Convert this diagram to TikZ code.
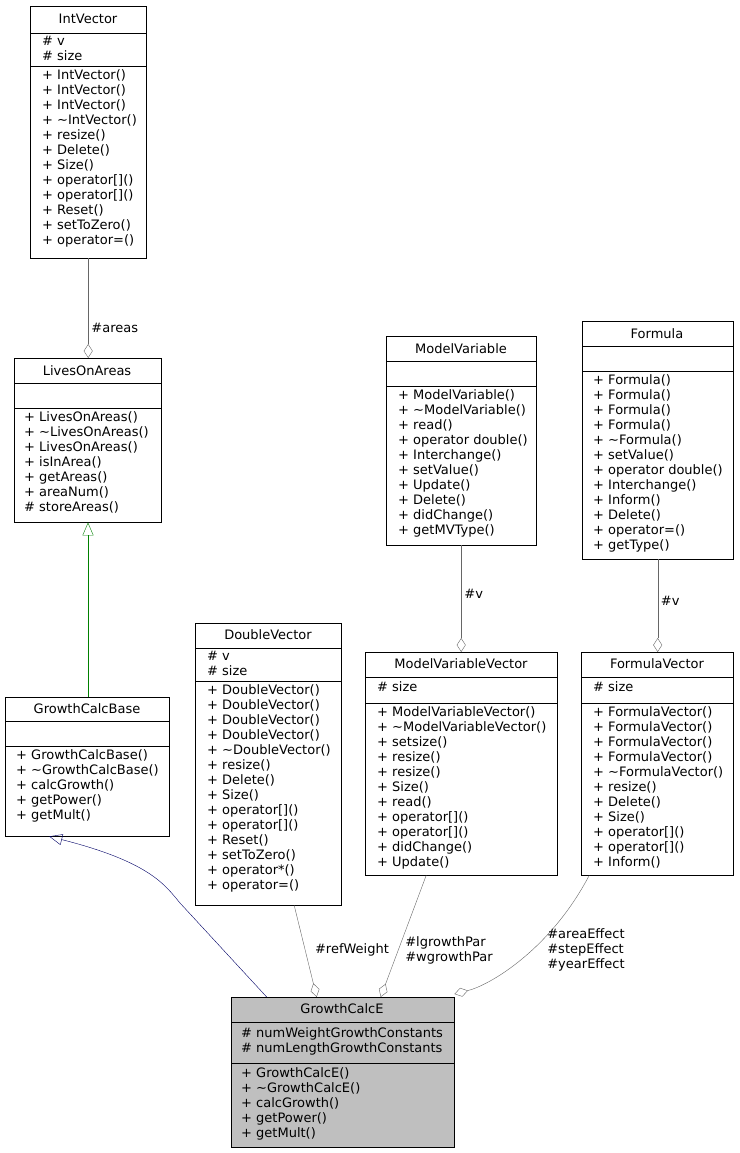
\documentclass[tikz,border=0pt]{standalone}
\usepackage{fontspec}
\setmainfont{DejaVu Sans}
\usetikzlibrary{arrows.meta}
\tikzset{
  cls/.style={draw, anchor=north west, inner sep=0pt, minimum width=#1},
  txt/.style={anchor=north west, inner sep=0pt, align=left, font=\fontsize{13}{15}\selectfont},
  ttl/.style={inner sep=0pt, font=\fontsize{13}{15}\selectfont},
  lbl/.style={inner sep=0pt, align=left, text=black, font=\fontsize{13}{15}\selectfont},
  agg/.style={{Diamond[open,length=14pt,width=9pt]}-, black!60},
  gen/.style={{Triangle[open,length=13pt,width=11pt]}-},
}
\newcommand{\tl}{\textasciitilde}
\begin{document}
\begin{tikzpicture}[x=1pt,y=-1pt]
\useasboundingbox (0,0) rectangle (739,1153);
% IntVector
\node[cls=116, minimum height=252] (IntVector) at (30,6) {};
\node[ttl] at (88,19) {IntVector};
\draw (30,33) -- (146,33) (30,66) -- (146,66);
\node[txt] at (42,36) {\# v\\\# size};
\node[txt] at (42,69) {+ IntVector()\\+ IntVector()\\+ IntVector()\\+ \tl IntVector()\\+ resize()\\+ Delete()\\+ Size()\\+ operator[]()\\+ operator[]()\\+ Reset()\\+ setToZero()\\+ operator=()};
% LivesOnAreas
\node[cls=147, minimum height=164] (LivesOnAreas) at (14,358) {};
\node[ttl] at (87,371) {LivesOnAreas};
\draw (14,383) -- (161,383) (14,408) -- (161,408);
\node[txt] at (24,411) {+ LivesOnAreas()\\+ \tl LivesOnAreas()\\+ LivesOnAreas()\\+ isInArea()\\+ getAreas()\\+ areaNum()\\\# storeAreas()};
% ModelVariable
\node[cls=150, minimum height=209] (ModelVariable) at (386,336) {};
\node[ttl] at (461,349) {ModelVariable};
\draw (386,361) -- (536,361) (386,386) -- (536,386);
\node[txt] at (398,389) {+ ModelVariable()\\+ \tl ModelVariable()\\+ read()\\+ operator double()\\+ Interchange()\\+ setValue()\\+ Update()\\+ Delete()\\+ didChange()\\+ getMVType()};
% Formula
\node[cls=151, minimum height=238] (Formula) at (582,321) {};
\node[ttl] at (657,334) {Formula};
\draw (582,346) -- (733,346) (582,371) -- (733,371);
\node[txt] at (593,374) {+ Formula()\\+ Formula()\\+ Formula()\\+ Formula()\\+ \tl Formula()\\+ setValue()\\+ operator double()\\+ Interchange()\\+ Inform()\\+ Delete()\\+ operator=()\\+ getType()};
% GrowthCalcBase
\node[cls=164, minimum height=139] (GrowthCalcBase) at (5,697) {};
\node[ttl] at (87,709) {GrowthCalcBase};
\draw (5,721) -- (169,721) (5,746) -- (169,746);
\node[txt] at (16,749) {+ GrowthCalcBase()\\+ \tl GrowthCalcBase()\\+ calcGrowth()\\+ getPower()\\+ getMult()};
% DoubleVector
\node[cls=146, minimum height=282] (DoubleVector) at (195,623) {};
\node[ttl] at (268,635) {DoubleVector};
\draw (195,648) -- (341,648) (195,681) -- (341,681);
\node[txt] at (207,651) {\# v\\\# size};
\node[txt] at (207,684) {+ DoubleVector()\\+ DoubleVector()\\+ DoubleVector()\\+ DoubleVector()\\+ \tl DoubleVector()\\+ resize()\\+ Delete()\\+ Size()\\+ operator[]()\\+ operator[]()\\+ Reset()\\+ setToZero()\\+ operator*()\\+ operator=()};
% ModelVariableVector
\node[cls=192, minimum height=223] (ModelVariableVector) at (365,652) {};
\node[ttl] at (461,664) {ModelVariableVector};
\draw (365,677) -- (557,677) (365,703) -- (557,703);
\node[txt] at (377,681) {\# size};
\node[txt] at (377,706) {+ ModelVariableVector()\\+ \tl ModelVariableVector()\\+ setsize()\\+ resize()\\+ resize()\\+ Size()\\+ read()\\+ operator[]()\\+ operator[]()\\+ didChange()\\+ Update()};
% FormulaVector
\node[cls=152, minimum height=223] (FormulaVector) at (581,652) {};
\node[ttl] at (657,664) {FormulaVector};
\draw (581,677) -- (733,677) (581,703) -- (733,703);
\node[txt] at (593,681) {\# size};
\node[txt] at (593,706) {+ FormulaVector()\\+ FormulaVector()\\+ FormulaVector()\\+ FormulaVector()\\+ \tl FormulaVector()\\+ resize()\\+ Delete()\\+ Size()\\+ operator[]()\\+ operator[]()\\+ Inform()};
% GrowthCalcE
\node[cls=223, minimum height=150, fill=black!25] (GrowthCalcE) at (231,997) {};
\node[ttl] at (342,1009) {GrowthCalcE};
\draw (231,1022) -- (454,1022) (231,1063) -- (454,1063);
\node[txt] at (241,1027) {\# numWeightGrowthConstants\\\# numLengthGrowthConstants};
\node[txt] at (241,1067) {+ GrowthCalcE()\\+ \tl GrowthCalcE()\\+ calcGrowth()\\+ getPower()\\+ getMult()};
% connectors
\draw[agg] (LivesOnAreas.north -| IntVector.south) -- (IntVector.south) node[lbl, pos=0.3, right=3pt] {\#areas};
\draw[gen, green!50!black] (LivesOnAreas.south -| 88,0) -- (GrowthCalcBase.north -| 88,0);
\draw[gen, blue!40!black] ([xshift=-38]GrowthCalcBase.south) .. controls (150,862) and (165,885) .. (180,903) -- ([xshift=-76]GrowthCalcE.north);
\draw[agg] ([xshift=-26]GrowthCalcE.north) -- ([xshift=26]DoubleVector.south);
\node[lbl] (refW) at (352,950) {\#refWeight};
\draw[agg] ([xshift=38]GrowthCalcE.north) -- ([xshift=-35]ModelVariableVector.south);
\node[lbl] (lgw) at (449,950) {\#lgrowthPar\\\#wgrowthPar};
\draw[agg] ([yshift=3]GrowthCalcE.north east) .. controls (490,985) and (550,950) .. ([xshift=-68]FormulaVector.south);
\node[lbl] (fvl) at (586,950) {\#areaEffect\\\#stepEffect\\\#yearEffect};
\draw[agg] (ModelVariableVector.north) -- (ModelVariableVector.north |- ModelVariable.south) node[lbl, pos=0.55, right=3pt] {\#v};
\draw[agg] (FormulaVector.north -| Formula.south) -- (Formula.south) node[lbl, pos=0.55, right=3pt] {\#v};
\end{tikzpicture}
\end{document}
